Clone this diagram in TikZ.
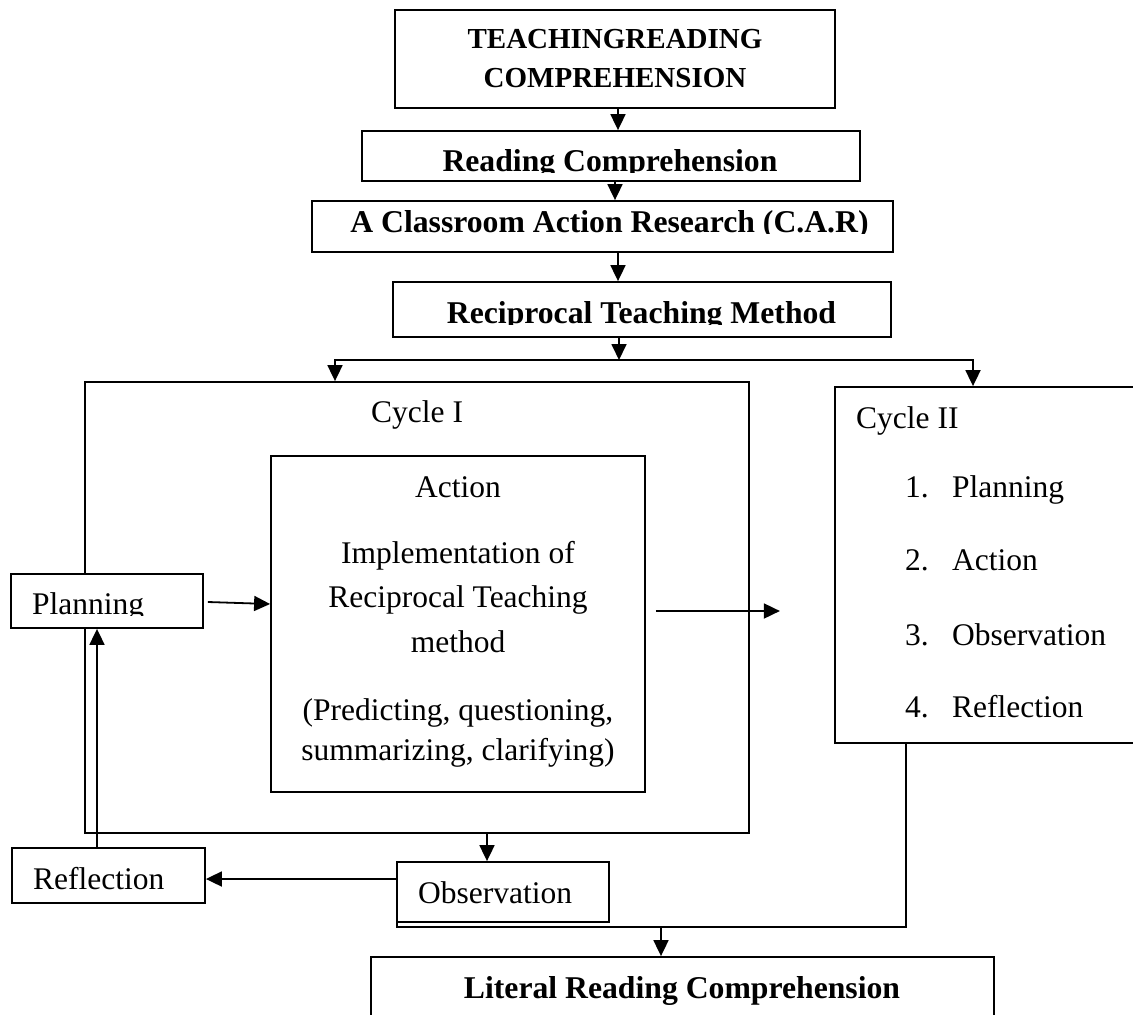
\documentclass[tikz,border=0pt]{standalone}
\usepackage{fontspec}
\setmainfont{Liberation Serif}
\usetikzlibrary{arrows.meta,calc}
\begin{document}
\begin{tikzpicture}[x=1pt,y=-1pt,
  box/.style={draw, line width=1.8pt, rectangle, inner sep=0pt, fill=white},
  arr/.style={line width=1.8pt, -{Triangle[length=16pt,width=15pt]}},
  ln/.style={line width=1.8pt},
  bt/.style={font=\fontsize{31.7}{36}\selectfont\bfseries, inner sep=0pt},
  tt/.style={font=\fontsize{29}{34}\selectfont\bfseries, inner sep=0pt},
  rt/.style={font=\fontsize{31.5}{36}\selectfont, inner sep=0pt},
]
\useasboundingbox (0,0) rectangle (1133,1015);

% boxes
\node[box, minimum width=440pt, minimum height=98pt] (top) at (615,59) {};
\node[box, minimum width=498pt, minimum height=50pt] (rc) at (611,156) {};
\node[box, minimum width=581pt, minimum height=51pt] (car) at (602.5,226.5) {};
\node[box, minimum width=498pt, minimum height=55pt] (rtm) at (642,309.5) {};
\node[box, minimum width=664pt, minimum height=451pt] (cyc1) at (417,607.5) {};
\node[box, minimum width=374pt, minimum height=336pt] (act) at (458,624) {};
\node[box, minimum width=192pt, minimum height=54pt] (plan) at (107,601) {};
\node[box, minimum width=193pt, minimum height=55pt] (refl) at (108.5,875.5) {};
\node[box, minimum width=212pt, minimum height=60pt] (obs) at (503,892) {};
\node[box, minimum width=305pt, minimum height=356pt] (cyc2) at (987.5,565) {};
\node[box, minimum width=623pt, minimum height=73pt] (lit) at (682.5,993.5) {};

% texts
\node[tt, anchor=base] (t1) at (615,48) {TEACHINGREADING};
\node[tt, anchor=base] (t2) at (615,87) {COMPREHENSION};
\begin{scope}
\clip (364,133) rectangle (858,172);
\node[bt, anchor=base] (rct) at (610,171) {Reading Comprehension};
\end{scope}
\begin{scope}
\clip (314,203) rectangle (891,233);
\node[bt, anchor=base] (cart) at (609.5,232) {A Classroom Action Research (C.A.R)};
\end{scope}
\begin{scope}
\clip (395,284) rectangle (889,324);
\node[bt, anchor=base] (rtmt) at (641.5,323) {Reciprocal Teaching Method};
\end{scope}
\begin{scope}
\clip (13,576) rectangle (201,615);
\node[rt, anchor=base west] (plant) at (32,614) {Planning};
\end{scope}
\node[rt, anchor=base west] (c1t) at (371,422) {Cycle I};
\node[rt, anchor=base] (a1) at (458,497) {Action};
\node[rt, anchor=base] (a2) at (458,563) {Implementation of};
\node[rt, anchor=base] (a3) at (458,607) {Reciprocal Teaching};
\node[rt, anchor=base] (a4) at (458,652) {method};
\node[rt, anchor=base] (a5) at (458,720) {(Predicting, questioning,};
\node[rt, anchor=base] (a6) at (458,760) {summarizing, clarifying)};
\node[rt, anchor=base west] (reflt) at (33,889) {Reflection};
\node[rt, anchor=base west] (obst) at (418,903) {Observation};
\node[bt, anchor=base] (litt) at (682,998) {Literal Reading Comprehension};
\node[rt, anchor=base west] (c2t) at (856,428) {Cycle II};
\node[rt, anchor=base west] (n1) at (905,497) {1.};
\node[rt, anchor=base west] (i1) at (952,497) {Planning};
\node[rt, anchor=base west] (n2) at (905,570) {2.};
\node[rt, anchor=base west] (i2) at (952,570) {Action};
\node[rt, anchor=base west] (n3) at (905,645) {3.};
\node[rt, anchor=base west] (i3) at (952,645) {Observation};
\node[rt, anchor=base west] (n4) at (905,717) {4.};
\node[rt, anchor=base west] (i4) at (952,717) {Reflection};

% connectors
\coordinate (s1) at (618,0);
\coordinate (s2) at (615,0);
\coordinate (s3) at (619,0);
\draw[arr] (top.south -| s1) -- (rc.north -| s1);
\draw[arr] (rc.south -| s2) -- (car.north -| s2);
\draw[arr] (car.south -| s1) -- (rtm.north -| s1);
\coordinate (hl) at (619,360);
\coordinate (hlL) at (335,360);
\coordinate (hlR) at (973,360);
\draw[arr] (rtm.south -| s3) -- (hl);
\draw[ln, line cap=rect] (hlL) -- (hlR);
\draw[arr] (hlL) -- (hlL |- cyc1.north);
\draw[arr] (hlR) -- (hlR |- cyc2.north);

\draw[arr] ([xshift=4pt,yshift=-1pt]plan.east) -- ([yshift=-3pt]plan.east -| act.west);
\draw[arr] ($(act.east)+(10,-13)$) -- ++(124,0);

\coordinate (j4) at (97,0);
\draw[arr] (refl.north -| j4) -- (plan.south -| j4);
\coordinate (j3) at (487,0);
\draw[arr] (cyc1.south -| j3) -- (obs.north -| j3);
\draw[arr] ([yshift=13pt]obs.west) -- ([yshift=13pt]obs.west -| refl.east);

\draw[ln] ($(cyc2.south west)+(72,0)$) |- ($(obs.south west)+(1,4)$) -- ($(obs.south west)+(1,0)$);
\coordinate (j2) at (661,926);
\draw[arr] (j2) -- (j2 |- lit.north);
\end{tikzpicture}
\end{document}
